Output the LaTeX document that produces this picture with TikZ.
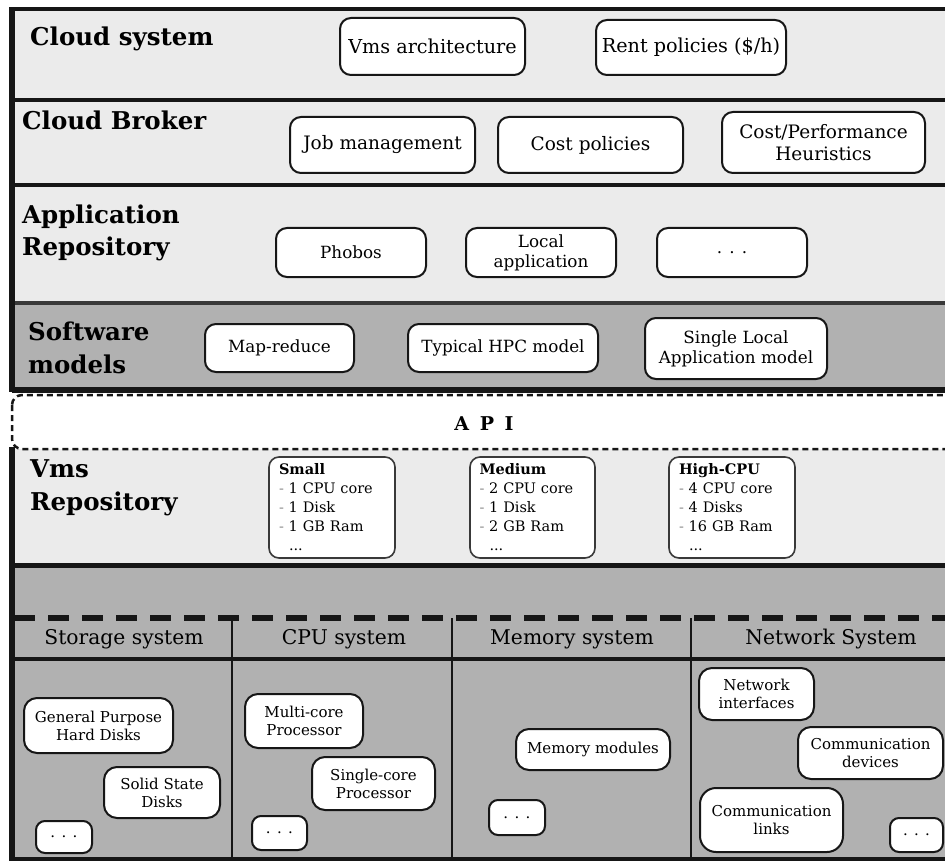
\documentclass[tikz,border=0pt]{standalone}
\usepackage{fontspec}
\setmainfont{DejaVu Serif}
\definecolor{lg}{HTML}{EBEBEB}
\definecolor{dg}{HTML}{B1B1B1}
\definecolor{ln}{HTML}{161616}
\newcommand{\fs}[2]{\fontsize{#1}{#2}\selectfont}
\newcommand{\bul}{{\color{black!45}-}}
\tikzset{
  bx/.style={draw=ln, line width=2pt, rounded corners=11pt, fill=white, align=center, inner sep=0pt, text=black},
  vmb/.style={draw=ln!85, line width=1.6pt, rounded corners=10pt, fill=white, align=left, inner sep=0pt,
    font=\fontsize{14.5}{19}\selectfont},
  ttl/.style={anchor=base west, inner sep=0pt, font=\fontsize{24.5}{30}\selectfont\bfseries},
  hdr/.style={inner sep=0pt, font=\fontsize{20.3}{24}\selectfont},
  sep/.style={draw=ln, line width=4.5pt},
}
\begin{document}
\begin{tikzpicture}[x=1pt,y=-1pt]
\useasboundingbox (0,0) rectangle (945,861);
\clip (0,0) rectangle (945,861);
% band fills
\fill[lg] (12,9) rectangle (990,303);
\fill[dg] (12,303) rectangle (990,390);
\fill[lg] (12,449) rectangle (990,565);
\fill[dg] (12,565) rectangle (990,859);
% API band
\draw[ln, line width=2.5pt, dash pattern=on 6pt off 4pt, fill=white, rounded corners=10pt]
  (12,395) rectangle (990,449);
% separators
\draw[sep, line width=4pt] (10,9.5) -- (990,9.5);
\draw[sep] (12,100) -- (990,100);
\draw[sep, line width=4pt] (12,185) -- (990,185);
\draw[sep, draw=ln!85] (12,303) -- (990,303);
\draw[sep, line width=6pt] (12,390) -- (990,390);
\draw[sep, line width=5pt] (12,565) -- (990,565);
\draw[sep, line width=6pt, dash pattern=on 21pt off 13pt] (14,618) -- (990,618);
\draw[sep] (12,659) -- (990,659);
\draw[sep, line width=5pt] (12,859) -- (990,859);
\draw[ln, line width=1.5pt] (232,618) -- (232,859);
\draw[ln, line width=1.5pt] (452,618) -- (452,859);
\draw[ln, line width=1.5pt] (691,618) -- (691,859);
% left border
\draw[ln, line width=6pt] (12,7.5) -- (12,392);
\draw[ln, line width=6pt] (12,447) -- (12,861);
% titles
\node[ttl] (t1) at (30,46) {Cloud system};
\node[ttl] (t2) at (22,130) {Cloud Broker};
\node[ttl] (t3a) at (22,223) {Application};
\node[ttl] (t3b) at (22,255) {Repository};
\node[ttl] (t4a) at (28,340) {Software};
\node[ttl] (t4b) at (28,373) {models};
\node[ttl] (t5a) at (30,477) {Vms};
\node[ttl] (t5b) at (30,510) {Repository};
\node[inner sep=0pt, font=\fontsize{19}{22}\selectfont\bfseries] (api) at (484,424) {A\hspace{4pt} P\hspace{4pt} I};
% cloud system
\node[bx, font=\fs{19.2}{23}, minimum width=185, minimum height=57] (vmsarch) at (432.5,46.5) {Vms architecture};
\node[bx, font=\fs{19.2}{23}, minimum width=190, minimum height=55] (rent) at (691,47.5) {Rent policies (\$/h)};
% broker
\node[bx, font=\fs{18.5}{22}, minimum width=185, minimum height=56] (job) at (382.5,145) {Job management};
\node[bx, font=\fs{18.5}{22}, minimum width=185, minimum height=56] (cost) at (590.5,145) {Cost policies};
\node[bx, font=\fs{18.5}{22}, minimum width=203, minimum height=61] (cph) at (823.5,142.5) {Cost/Performance\\Heuristics};
% application repository
\node[bx, font=\fs{16.8}{20}, minimum width=150, minimum height=49] (phobos) at (351,252.5) {Phobos};
\node[bx, font=\fs{16.8}{20}, minimum width=150, minimum height=49] (localapp) at (541,252.5) {Local\\application};
\node[bx, font=\fs{16.8}{20}, minimum width=150, minimum height=49] (appdots) at (732,252.5) {. . .};
% software models
\node[bx, font=\fs{16.8}{20}, minimum width=149, minimum height=48] (mapred) at (279.5,348) {Map-reduce};
\node[bx, font=\fs{16.8}{20}, minimum width=190, minimum height=48] (hpc) at (503,348) {Typical HPC model};
\node[bx, font=\fs{16.8}{20}, minimum width=182, minimum height=61] (slam) at (736,348.5) {Single Local\\Application model};
% vms repository
\node[vmb, minimum width=126, minimum height=101, text width=106pt] (small) at (332,507.5)
  {\textbf{Small}\\\bul{} 1 CPU core\\\bul{} 1 Disk\\\bul{} 1 GB Ram\\\hspace*{10pt}...};
\node[vmb, minimum width=125, minimum height=101, text width=106pt] (medium) at (532.5,507.5)
  {\textbf{Medium}\\\bul{} 2 CPU core\\\bul{} 1 Disk\\\bul{} 2 GB Ram\\\hspace*{10pt}...};
\node[vmb, minimum width=126, minimum height=101, text width=106pt] (highcpu) at (732,507.5)
  {\textbf{High-CPU}\\\bul{} 4 CPU core\\\bul{} 4 Disks\\\bul{} 16 GB Ram\\\hspace*{10pt}...};
% headers
\node[hdr] (hstor) at (124,639) {Storage system};
\node[hdr] (hcpu) at (344,639) {CPU system};
\node[hdr] (hmem) at (572,639) {Memory system};
\node[hdr] (hnet) at (831,639) {Network System};
% bottom boxes
\node[bx, font=\fs{15}{18}, rounded corners=13pt, minimum width=149, minimum height=55] (gphd) at (98.5,725.5) {General Purpose\\Hard Disks};
\node[bx, font=\fs{15}{18}, rounded corners=13pt, minimum width=116, minimum height=51] (ssd) at (162,792.5) {Solid State\\Disks};
\node[bx, font=\fs{15}{18}, rounded corners=9pt, minimum width=56, minimum height=32] (sdots) at (64,837) {. . .};
\node[bx, font=\fs{15}{18}, rounded corners=13pt, minimum width=118, minimum height=54] (multi) at (304,721) {Multi-core\\Processor};
\node[bx, font=\fs{15}{18}, rounded corners=13pt, minimum width=123, minimum height=53] (single) at (373.5,783.5) {Single-core\\Processor};
\node[bx, font=\fs{15}{18}, rounded corners=9pt, minimum width=55, minimum height=34] (cdots) at (279.5,833) {. . .};
\node[bx, font=\fs{15}{18}, rounded corners=13pt, minimum width=154, minimum height=41] (memmod) at (593,749.5) {Memory modules};
\node[bx, font=\fs{15}{18}, rounded corners=9pt, minimum width=56, minimum height=35] (mdots) at (517,817.5) {. . .};
\node[bx, font=\fs{15}{18}, rounded corners=13pt, minimum width=115, minimum height=52] (netif) at (756.5,694) {Network\\interfaces};
\node[bx, font=\fs{15}{18}, rounded corners=13pt, minimum width=145, minimum height=52] (commdev) at (870.5,753) {Communication\\devices};
\node[bx, font=\fs{15}{18}, rounded corners=16pt, minimum width=143, minimum height=64] (commlinks) at (771.5,820) {Communication\\links};
\node[bx, font=\fs{15}{18}, rounded corners=9pt, minimum width=53, minimum height=34] (ndots) at (916.5,835) {. . .};
\end{tikzpicture}
\end{document}
